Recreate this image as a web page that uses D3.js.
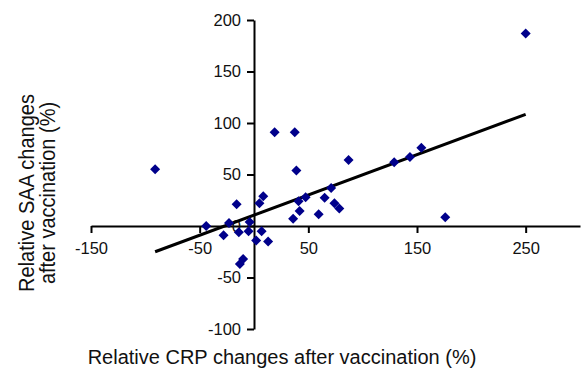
<!DOCTYPE html>
<html>
  <head>
    <meta charset="utf-8">
    <title></title>
  </head>
  <body>
  <style media="screen">
    body { margin:0; background:#fff; }
    svg { display:block; font-family:"Liberation Sans", Arial, sans-serif; }
    .axis path, .axis line { stroke:#000; stroke-width:2; }
    .axis text { font-size:16.5px; fill:#111; }
    .title { font-size:20px; fill:#111; }
  </style>

<svg id="chart1" width="581" height="376"></svg>
    <script src="https://d3js.org/d3.v7.min.js"></script>
    <script type="text/javascript">
    // relative CRP change (%) vs relative SAA change (%)
    var crp = [-91, -44, -28, -23, -16, -14, -13, -10, -4, -5, 2, 7, 13, 5, 8.5,
               19, 37.5, 39, 41, 47.5, 42, 36, 59.5, 65, 71, 74, 78.5, 87, 129, 143.5, 154, 176, 250];
    var saa = [55, 0, -9, 3, 21, -6, -37, -32, 4, -5, -14, -5, -15, 22, 29,
               91, 91, 54, 24, 28, 14.5, 7, 11.3, 27.5, 37, 22, 17, 64, 62, 67, 76, 8.5, 187];
    var xTicks = [-150, -50, 50, 150, 250];
    var yTicks = [-100, -50, 0, 50, 100, 150, 200];
    var fitSlope = 0.391, fitIntercept = 10.6;

    var svg = d3.select('#chart1');
    var x = d3.scaleLinear().domain([-150, 300]).range([91, 580]);
    var y = d3.scaleLinear().domain([-100, 200]).range([329, 20]);

    // plain hyphen minus like the original, not the unicode minus
    var fmt = d => String(d);

    svg.append('g').attr('class', 'axis')
      .attr('transform', 'translate(0,' + y(0) + ')')
      .call(d3.axisBottom(x).tickValues(xTicks).tickSize(7).tickPadding(9).tickSizeOuter(0).tickFormat(fmt));

    svg.append('g').attr('class', 'axis')
      .attr('transform', 'translate(' + x(0) + ',0)')
      .call(d3.axisLeft(y).tickValues(yTicks).tickSize(7).tickPadding(6).tickSizeOuter(0).tickFormat(fmt));

    svg.selectAll('.axis text').style('font-family', '"Liberation Sans", Arial, sans-serif');

    var ext = d3.extent(crp);
    svg.append('line')
      .attr('x1', x(ext[0])).attr('y1', y(fitSlope*ext[0] + fitIntercept))
      .attr('x2', x(ext[1])).attr('y2', y(fitSlope*ext[1] + fitIntercept))
      .attr('stroke', '#000').attr('stroke-width', 3);

    var diamond = d3.symbol().type(d3.symbolSquare).size(50);
    svg.selectAll('path.pt')
      .data(crp.map((d,i) => ({x:d, y:saa[i]})))
      .enter().append('path')
      .attr('class', 'pt')
      .attr('d', diamond)
      .attr('transform', d => 'translate(' + x(d.x) + ',' + y(d.y) + ') rotate(45)')
      .attr('fill', '#00008b');

    svg.append('text').attr('class', 'title')
      .attr('x', 282).attr('y', 364).attr('text-anchor', 'middle')
      .text('Relative CRP changes after vaccination (%)');

    var yt = svg.append('text').attr('class', 'title')
      .attr('transform', 'translate(34,193) scale(1.07,1) rotate(-90)')
      .attr('text-anchor', 'middle');
    yt.append('tspan').attr('x', 0).attr('dy', 0).text('Relative SAA changes');
    yt.append('tspan').attr('x', 0).attr('dy', 20).text('after vaccination (%)');
    </script>
  </body>
</html>
